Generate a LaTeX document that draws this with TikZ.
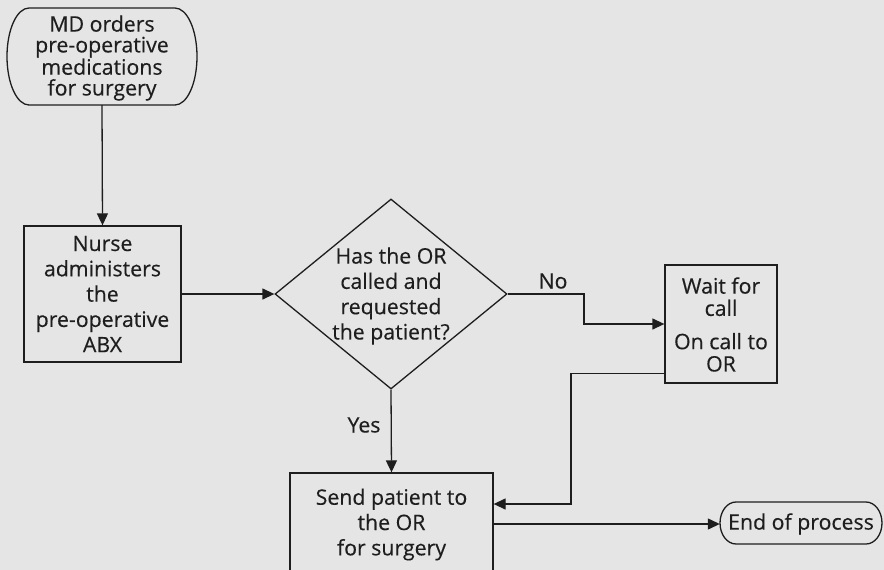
\documentclass[tikz,border=0pt]{standalone}
\usepackage{fontspec}
\setmainfont[FakeBold=0.35]{Open Sans}
\usetikzlibrary{shapes.geometric,arrows.meta,calc}
\definecolor{bg}{RGB}{229,229,229}
\definecolor{ink}{RGB}{30,30,30}

\begin{document}
\begin{tikzpicture}[x=1pt,y=-1pt,
  every node/.style={font=\fontsize{21.3}{25.3}\selectfont, text=ink, align=center, inner sep=0pt},
  line/.style={draw=ink, line width=1.3pt},
  box/.style={line, rectangle},
  decision/.style={line, diamond, inner sep=0pt},
  flow/.style={line, -{Triangle[length=12pt,width=11pt]}},
]
% page background
\fill[bg] (0,0) rectangle (884,570);
\useasboundingbox (0,0) rectangle (884,570);
\clip (0,0) rectangle (884,570);

% start terminal: text node plus an outline with half-elliptic ends
\node[minimum width=190pt, minimum height=94pt, font=\fontsize{21.3}{20.8}\selectfont] (start) at (102,58)
  {MD orders\\pre-operative\\medications\\for surgery};
\draw[line] (29,8) -- (175,8)
  .. controls (187.15,8) and (197,29.7) .. (197,56.5)
  .. controls (197,83.3) and (187.15,105) .. (175,105)
  -- (29,105)
  .. controls (16.85,105) and (7,83.3) .. (7,56.5)
  .. controls (7,29.7) and (16.85,8) .. (29,8) -- cycle;

% nurse step
\node[box, minimum width=157pt, minimum height=136pt] (nurse) at (102.5,294)
  {Nurse\\administers\\the\\pre-operative\\ABX};

% decision
\node[decision, minimum width=232pt, minimum height=190pt] (dec) at (391,294) {};
\node (dectext) at (391,296) {Has the OR\\called and\\requested\\the patient?};

% waiting step
\node[box, minimum width=112pt, minimum height=118pt] (wait) at (721,324) {};
\node (waittext) at (721,324.5) {Wait for\\[-3pt]call\\[8pt]On call to\\[-3pt]OR};

% send step (runs past the lower edge)
\node[box, minimum width=203pt, minimum height=140pt] (send) at (391.5,543) {};
\node (sendtext) at (391.5,524.5) {Send patient to\\the OR\\for surgery};

% end terminal: text node plus an outline with half-elliptic ends
\node[minimum width=162pt, minimum height=42pt] (endp) at (801,524) {End of process};
\draw[line] (736,502) -- (866,502)
  .. controls (874.8,502) and (882,511.4) .. (882,523)
  .. controls (882,534.6) and (874.8,544) .. (866,544)
  -- (736,544)
  .. controls (727.2,544) and (720,534.6) .. (720,523)
  .. controls (720,511.4) and (727.2,502) .. (736,502) -- cycle;

% connectors
\draw[flow] (start.south) -- (nurse.north);
\draw[flow] (nurse.east) -- (dec.west);

\coordinate (nobend) at (584,294);
\draw[flow] (dec.east) -- (nobend) |- (wait.west);
\node (nolbl) at (553,281) {No};

\draw[flow] (dec.south) -- (send.north);
\node (yeslbl) at (364,425) {Yes};

\coordinate (wout) at ($(wait.south west)+(0,-10)$);
\coordinate (rin) at (571,504);
\draw[flow] (wout) -| (rin) -- (send.east |- rin);

\draw[flow] (send.east |- endp.west) -- (endp.west);
\end{tikzpicture}
\end{document}
